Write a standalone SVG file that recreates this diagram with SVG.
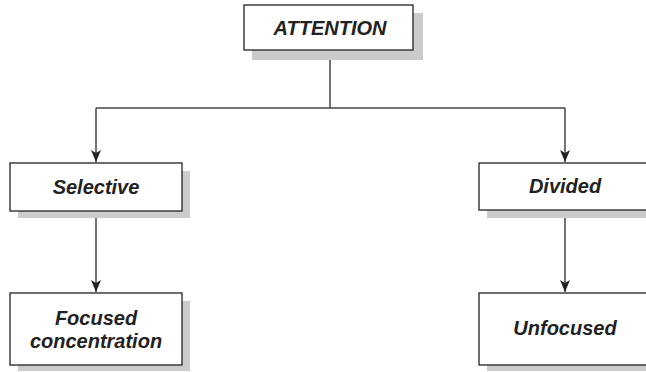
<svg xmlns="http://www.w3.org/2000/svg" width="646" height="372" viewBox="0 0 646 372">
<style>
.shadow{fill:#cbcbcb}
.box{fill:#fff;stroke:#222;stroke-width:1.3}
.lbl{font-family:"Liberation Sans",Arial,sans-serif;font-weight:bold;font-style:italic;font-size:20px;fill:#222;text-anchor:middle}
.conn{fill:none;stroke:#444;stroke-width:1.5}
</style>
<defs>
<marker id="arr" viewBox="0 0 12 10" refX="12" refY="5" markerWidth="12" markerHeight="10" markerUnits="userSpaceOnUse" orient="auto">
<path d="M0,0 L12,5 L0,10 L3,5 Z" fill="#222"/>
</marker>
</defs>
<rect width="646" height="372" fill="#fff"/>
<g id="connectors">
<path class="conn" d="M330,50 V108"/>
<path class="conn" d="M96,108 H565"/>
<path class="conn" d="M96,108 V162" marker-end="url(#arr)"/>
<path class="conn" d="M565,108 V162" marker-end="url(#arr)"/>
<path class="conn" d="M96,211 V292" marker-end="url(#arr)"/>
<path class="conn" d="M565,210 V292" marker-end="url(#arr)"/>
</g>
<g id="attention">
<rect class="shadow" x="252" y="13" width="171" height="47"/>
<rect class="box" x="244" y="5" width="169" height="45"/>
<text class="lbl" x="330" y="35">ATTENTION</text>
</g>
<g id="selective">
<rect class="shadow" x="18" y="171" width="172" height="47"/>
<rect class="box" x="10" y="163" width="172" height="48"/>
<text class="lbl" x="96" y="194">Selective</text>
</g>
<g id="divided">
<rect class="shadow" x="487" y="171" width="172" height="47"/>
<rect class="box" x="479" y="163" width="172" height="47"/>
<text class="lbl" x="565" y="193">Divided</text>
</g>
<g id="focused">
<rect class="shadow" x="18" y="301" width="172" height="70"/>
<rect class="box" x="10" y="293" width="172" height="72"/>
<text class="lbl" x="96" y="325">Focused</text>
<text class="lbl" x="96" y="348">concentration</text>
</g>
<g id="unfocused">
<rect class="shadow" x="487" y="301" width="172" height="70"/>
<rect class="box" x="479" y="293" width="172" height="72"/>
<text class="lbl" x="565" y="335">Unfocused</text>
</g>
</svg>
